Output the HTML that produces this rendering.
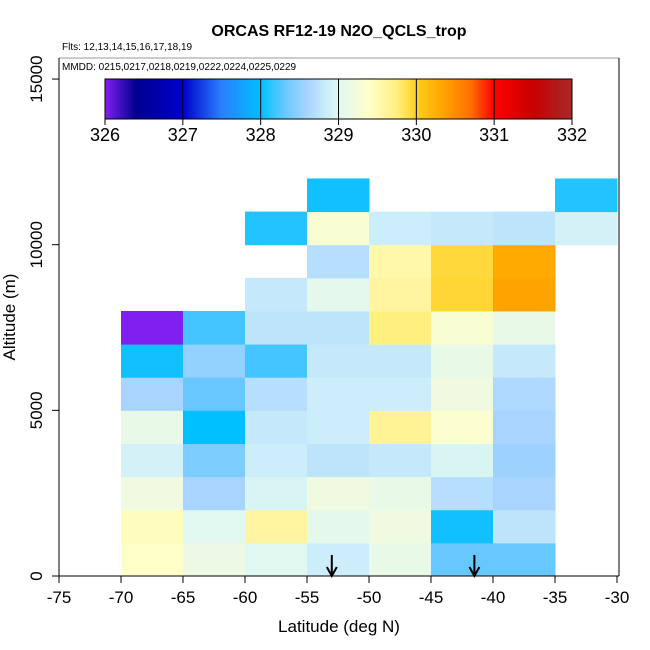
<!DOCTYPE html>
<html><head><meta charset="utf-8"><style>
body{margin:0;background:#fff}
svg{display:block;font-family:"Liberation Sans",sans-serif}
</style></head><body>
<svg id="chart" width="650" height="650" viewBox="0 0 650 650" xmlns="http://www.w3.org/2000/svg">
<defs><linearGradient id="cbg" x1="0" x2="1" y1="0" y2="0"></linearGradient></defs>
<text x="339" y="36" text-anchor="middle" font-size="16" font-weight="bold">ORCAS RF12-19 N2O_QCLS_trop</text>
<text x="62" y="50" font-size="10">Flts: 12,13,14,15,16,17,18,19</text>
<g id="cells"></g>
<line x1="59" y1="58" x2="619" y2="58" stroke="#999" stroke-width="1"/>
<text x="62" y="70" font-size="10">MMDD: 0215,0217,0218,0219,0222,0224,0225,0229</text>
<rect x="105" y="79" width="467" height="40" fill="url(#cbg)" stroke="#000" stroke-width="1"/>
<g id="cbticks"></g>
<g id="arrows"></g>
<line x1="619" y1="58" x2="619" y2="576" stroke="#000"/>
<line x1="59" y1="576" x2="619" y2="576" stroke="#000"/>
<line x1="59" y1="58" x2="59" y2="576" stroke="#000"/>
<g id="xticks"></g>
<g id="yticks"></g>
<text x="339" y="632" text-anchor="middle" font-size="17">Latitude (deg N)</text>
<text transform="translate(15,317) rotate(-90)" text-anchor="middle" font-size="17">Altitude (m)</text>
</svg>
<script>
const latBins = [-70,-65,-60,-55,-50,-45,-40,-35];
const altBins = [0,1000,2000,3000,4000,5000,6000,7000,8000,9000,10000,11000];
const n2oGrid = [
 [329.4,329.45,329.2,328.9,329.1,328.6,328.05,326.0,null,null,null,null],
 [329.15,329.0,328.6,328.4,328.0,328.3,328.5,328.2,null,null,null,null],
 [329.0,329.6,328.95,328.85,328.8,328.7,328.2,328.75,328.8,null,328.1,null],
 [328.85,329.05,329.2,328.75,328.85,328.85,328.8,328.75,329.05,328.7,329.3,328.05],
 [329.1,329.2,329.1,328.8,329.65,328.85,328.8,329.75,329.6,329.55,328.85,null],
 [328.3,328.05,328.7,328.95,329.35,329.2,329.1,329.3,329.95,329.93,328.8,null],
 [328.3,328.75,328.6,328.55,328.6,328.65,328.8,329.1,330.35,330.3,328.75,null],
 [null,null,null,null,null,null,null,null,null,null,328.9,328.1]
];
const xTicks = [-75,-70,-65,-60,-55,-50,-45,-40,-35,-30];
const yTicks = [0,5000,10000,15000];
const cbTicks = [326,327,328,329,330,331,332];
const arrowLats = [-53,-41.5];
const cmapVals = [326,326.4,327,327.5,328,328.3,328.6,328.85,329,329.2,329.4,329.6,329.75,330,330.3,330.7,331,331.5,332];
const cmapCols = ["#8020f0","#000090","#0000cc","#2a80ff","#00c0ff","#66c8ff","#a8d4ff","#cceefa","#e0f8f0","#f0fae0","#ffffc8","#fff5a0","#fff080","#ffd020","#ffaa00","#ff7000","#ff0000","#c80000","#a52a2a"];

const NS="http://www.w3.org/2000/svg";
const X=v=>59+(v+75)*12.4;
const Y=v=>576-v*0.03313;
const CB=v=>105+(v-326)/6*467;
function hex(c){return [1,3,5].map(i=>parseInt(c.substr(i,2),16));}
function color(v){
 if(v<=cmapVals[0])return cmapCols[0];
 for(let i=1;i<cmapVals.length;i++){ if(v<=cmapVals[i]){
  const t=(v-cmapVals[i-1])/(cmapVals[i]-cmapVals[i-1]);const a=hex(cmapCols[i-1]),b=hex(cmapCols[i]);
  return "rgb("+a.map((x,k)=>Math.round(x+(b[k]-x)*t)).join(",")+")";}}
 return cmapCols[cmapCols.length-1];
}
function mk(tag,attrs,parent){const e=document.createElementNS(NS,tag);for(const k in attrs)e.setAttribute(k,attrs[k]);parent.appendChild(e);return e;}
const grad=document.getElementById('cbg');
cmapVals.forEach((v,i)=>mk('stop',{offset:((v-326)/6*100)+'%','stop-color':cmapCols[i]},grad));
const cells=document.getElementById('cells');
n2oGrid.forEach((col,i)=>col.forEach((v,j)=>{
 if(v===null)return;
 const r=mk('rect',{x:X(latBins[i]),y:Y(altBins[j]+1000),width:X(latBins[i]+5)-X(latBins[i])+0.5,height:Y(altBins[j])-Y(altBins[j]+1000)+0.5,fill:color(v)},cells);
 
 
}));
const cbt=document.getElementById('cbticks');
cbTicks.forEach(v=>{
 const l=mk('line',{x1:CB(v),x2:CB(v),y1:79,y2:125,stroke:'#000'},cbt);
 
 
 const t=mk('text',{x:CB(v),y:141,'text-anchor':'middle','font-size':'18'},cbt);t.textContent=v;
 
 
});
const xt=document.getElementById('xticks');
xTicks.forEach(v=>{
 const l=mk('line',{x1:X(v),x2:X(v),y1:576,y2:583,stroke:'#000'},xt);
 
 
 const t=mk('text',{x:X(v),y:603,'text-anchor':'middle','font-size':'17'},xt);t.textContent=v;
 
 
});
const yt=document.getElementById('yticks');
yTicks.forEach(v=>{
 const l=mk('line',{x1:52,x2:59,y1:Y(v),y2:Y(v),stroke:'#000'},yt);
 
 
 const t=mk('text',{transform:`translate(42,${Y(v)}) rotate(-90)`,'text-anchor':'middle','font-size':'17'},yt);t.textContent=v;
 
 
});
const ar=document.getElementById('arrows');
arrowLats.forEach(v=>{
 const g=mk('g',{},ar);
 
 
 mk('line',{x1:X(v),x2:X(v),y1:555,y2:575,stroke:'#000','stroke-width':2},g);
 mk('polyline',{points:`${X(v)-5},567 ${X(v)},576 ${X(v)+5},567`,fill:'none',stroke:'#000','stroke-width':2},g);
});
</script>
</body></html>
